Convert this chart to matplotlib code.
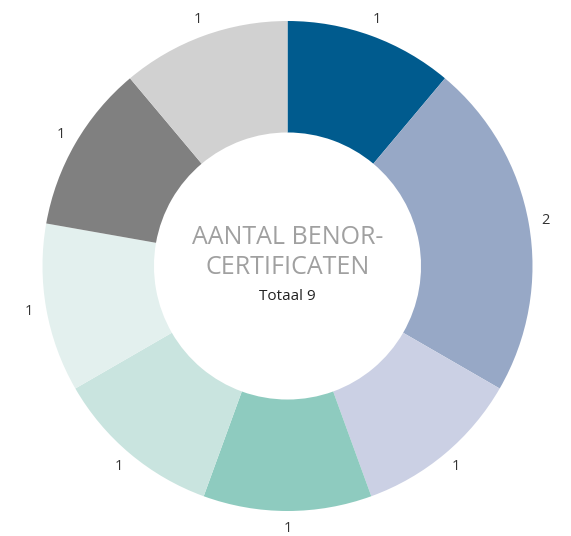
import matplotlib
matplotlib.use('Agg')
import matplotlib.pyplot as plt

plt.rcParams['font.family'] = ['Open Sans', 'DejaVu Sans']

# Data
categories = ['A', 'B', 'C', 'D', 'E', 'F', 'G', 'H']
values = [1, 2, 1, 1, 1, 1, 1, 1]
colors = ['#005b8e', '#97a8c6', '#cbd0e4', '#8ecbbf',
          '#c9e4df', '#e3f0ee', '#808080', '#d1d1d1']
title_lines = ['AANTAL BENOR-', 'CERTIFICATEN']
total_label = 'Totaal %d' % sum(values)

W, H = 571, 536
fig = plt.figure(figsize=(W / 100, H / 100), dpi=100)
ax = fig.add_axes([0, 0, 1, 1])

cx, cy, R = 287.5, H - 266, 245
ax.pie(values, colors=colors, startangle=90, counterclock=False,
       radius=R, center=(cx, cy),
       labels=[str(v) for v in values], labeldistance=1.07,
       wedgeprops=dict(width=R * 0.455, linewidth=0),
       textprops=dict(fontsize=10.5, color='#333333', ha='center', va='center'))

ax.set_xlim(0, W)
ax.set_ylim(0, H)
ax.set_aspect('auto')
ax.axis('off')

ax.text(cx, H - 237, title_lines[0], ha='center', va='center', fontsize=18, color='#a0a0a0')
ax.text(cx, H - 267, title_lines[1], ha='center', va='center', fontsize=18, color='#a0a0a0')
ax.text(cx, H - 297, total_label, ha='center', va='center', fontsize=11, color='#222222')

fig.savefig('out.png', dpi=100)
plt.close(fig)
